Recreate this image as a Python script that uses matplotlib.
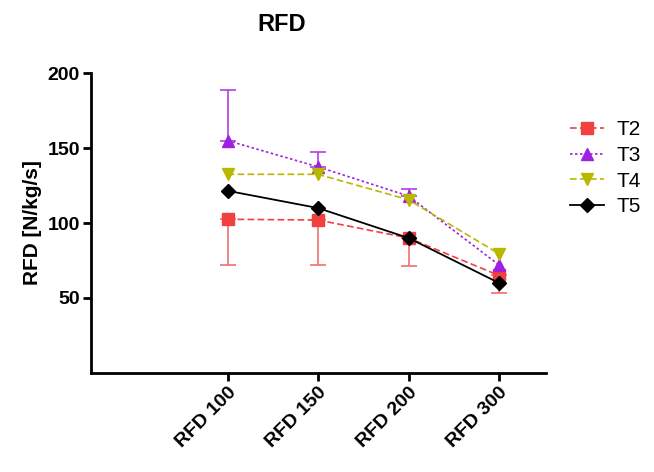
import matplotlib.pyplot as plt
import numpy as np

categories = ["RFD 100", "RFD 150", "RFD 200", "RFD 300"]

t2 = [102.5, 102, 90, 65]
t2_err_low = [30.5, 30, 18.5, 11.5]
t3 = [155, 137.5, 118, 72]
t3_err_up = [34, 10, 5, 0]
t4 = [132.5, 132.5, 115.5, 79.5]
t5 = [121.5, 110, 90, 60]

plt.rcParams["font.family"] = ["Liberation Sans", "DejaVu Sans"]

fig = plt.figure(figsize=(6.54, 4.72), dpi=100)
ax = fig.add_axes([0.139, 0.21, 0.696, 0.635])

x = np.arange(len(categories))

red = "#f04040"
purple = "#a020e0"
olive = "#b8b800"


def draw_bars(vals, low, up, color):
    # only draw bars where there is an error to show
    for xi, v, lo, hi in zip(x, vals, low, up):
        if lo == 0 and hi == 0:
            continue
        ax.errorbar([xi], [v], yerr=[[lo], [hi]], fmt="none", ecolor=color,
                    capsize=6, elinewidth=1.2, capthick=1.2, zorder=2)


draw_bars(t2, t2_err_low, [0] * 4, "#f07070")
draw_bars(t3, [0] * 4, t3_err_up, "#b040e0")

h2, = ax.plot(x, t2, color=red, linestyle=(0, (4, 2)), linewidth=1.2,
              marker="s", markersize=8, label="T2", zorder=3)
h3, = ax.plot(x, t3, color=purple, linestyle=(0, (1.5, 1.5)), linewidth=1.2,
              marker="^", markersize=8, label="T3", zorder=3)
h4, = ax.plot(x, t4, color=olive, linestyle=(0, (4, 2)), linewidth=1.2,
              marker="v", markersize=8, label="T4", zorder=3)
h5, = ax.plot(x, t5, color="black", linestyle="-", linewidth=1.3,
              marker="D", markersize=7, label="T5", zorder=4)

ax.set_xlim(-1.51, 3.52)
ax.set_ylim(0, 200)
ax.set_yticks([50, 100, 150, 200])
ax.set_xticks(x)
ax.set_xticklabels(categories, rotation=45, ha="right", rotation_mode="anchor",
                   fontsize=14, fontweight="bold")
for lab in ax.get_yticklabels():
    lab.set_fontsize(14)
    lab.set_fontweight("bold")

for side in ["top", "right"]:
    ax.spines[side].set_visible(False)
for side in ["left", "bottom"]:
    ax.spines[side].set_linewidth(2)
ax.tick_params(axis="both", width=2, length=6, pad=2)

ax.set_ylabel("RFD [N/kg/s]", fontsize=15, fontweight="bold", labelpad=4)
ax.set_title("RFD", fontsize=17, fontweight="bold", x=0.42, pad=30)

fig.legend(handles=[h2, h3, h4, h5], loc="upper left",
           bbox_to_anchor=(0.872, 0.745), frameon=False, fontsize=15,
           handlelength=1.6, handletextpad=0.6, labelspacing=0.32,
           borderpad=0, borderaxespad=0)

fig.savefig("out.png", dpi=100)
